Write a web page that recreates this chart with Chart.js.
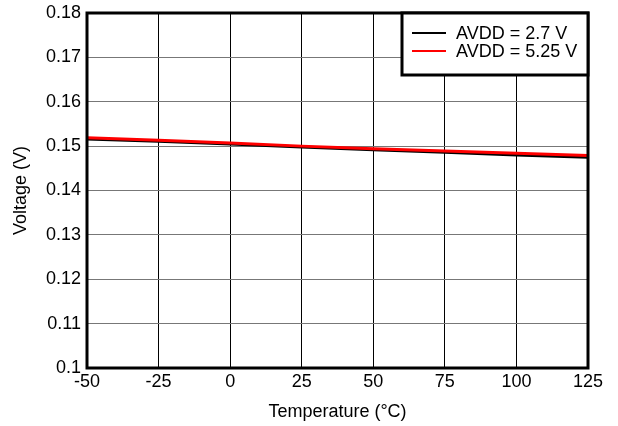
<!DOCTYPE html>
<html>
<head>
<meta charset="utf-8">
<script src="https://cdn.jsdelivr.net/npm/chart.js@4/dist/chart.umd.min.js"></script>
<style>
html,body{margin:0;padding:0;background:#fff;}
#wrap{width:618px;height:426px;position:relative;}
</style>
</head>
<body>
<div id="wrap"><canvas id="c" width="618" height="426"></canvas></div>
<script>
const temperatures = [-50, -25, 0, 25, 50, 75, 100, 125];
const avdd27 = [0.1516, 0.1511, 0.1505, 0.1498, 0.1492, 0.1486, 0.1480, 0.1475];
const avdd525 = [0.1519, 0.1513, 0.1507, 0.1500, 0.1494, 0.1489, 0.1484, 0.1479];
const seriesLabels = ['AVDD = 2.7 V', 'AVDD = 5.25 V'];
const xTitle = 'Temperature (\u00B0C)';
const yTitle = 'Voltage (V)';

const FONT = '"Liberation Sans", Arial, sans-serif';

const frameLegend = {
  id: 'frameLegend',
  afterDraw(chart) {
    const ctx = chart.ctx, a = chart.chartArea;
    ctx.save();
    ctx.strokeStyle = '#000';
    ctx.lineWidth = 3;
    ctx.strokeRect(a.left, a.top, a.right - a.left, a.bottom - a.top);
    const bx = 402, by = a.top, bw = a.right - bx, bh = 62;
    ctx.fillStyle = '#fff';
    ctx.fillRect(bx, by, bw, bh);
    ctx.lineWidth = 3;
    ctx.strokeRect(bx, by, bw, bh);
    ctx.font = '18px ' + FONT;
    ctx.textBaseline = 'middle';
    const rows = [chart.data.datasets[0], chart.data.datasets[1]];
    rows.forEach((ds, i) => {
      const y = by + 20 + i * 18;
      ctx.strokeStyle = ds.borderColor;
      ctx.lineWidth = 2;
      ctx.beginPath();
      ctx.moveTo(412, y);
      ctx.lineTo(446, y);
      ctx.stroke();
      ctx.fillStyle = '#000';
      ctx.fillText(ds.label, 456, y + 1);
    });
    ctx.restore();
  }
};

new Chart(document.getElementById('c'), {
  type: 'line',
  data: {
    datasets: [
      { label: seriesLabels[0], data: temperatures.map((t, i) => ({x: t, y: avdd27[i]})),
        borderColor: '#000000', borderWidth: 3, pointRadius: 0, tension: 0, order: 1 },
      { label: seriesLabels[1], data: temperatures.map((t, i) => ({x: t, y: avdd525[i]})),
        borderColor: '#ff0000', borderWidth: 3, pointRadius: 0, tension: 0, order: 0 }
    ]
  },
  options: {
    responsive: false,
    animation: false,
    layout: { padding: { top: 13, right: 30, left: 0, bottom: 0 } },
    plugins: { legend: { display: false }, tooltip: { enabled: false } },
    scales: {
      x: {
        type: 'linear', min: -50, max: 125,
        ticks: { stepSize: 25, color: '#000', font: { family: FONT, size: 18 }, padding: 3, maxRotation: 0 },
        grid: { color: '#000', lineWidth: 1, drawTicks: false },
        border: { display: false },
        title: { display: true, text: xTitle, color: '#000', font: { family: FONT, size: 18 }, padding: { top: 0, bottom: 3 } },
        afterFit(s) { s.height = 58; s.paddingLeft = 0; s.paddingRight = 0; }
      },
      y: {
        min: 0.1, max: 0.18,
        ticks: { stepSize: 0.01, color: '#000', font: { family: FONT, size: 18 }, padding: 6,
          callback: v => String(Number(v.toFixed(2))) },
        grid: { color: '#777', lineWidth: 1, drawTicks: false },
        border: { display: false },
        title: { display: true, text: yTitle, color: '#000', font: { family: FONT, size: 18 }, padding: { top: 10, bottom: 0 } },
        afterFit(s) { s.width = 87; s.paddingTop = 0; s.paddingBottom = 0; }
      }
    }
  },
  plugins: [frameLegend]
});
</script>
</body>
</html>
